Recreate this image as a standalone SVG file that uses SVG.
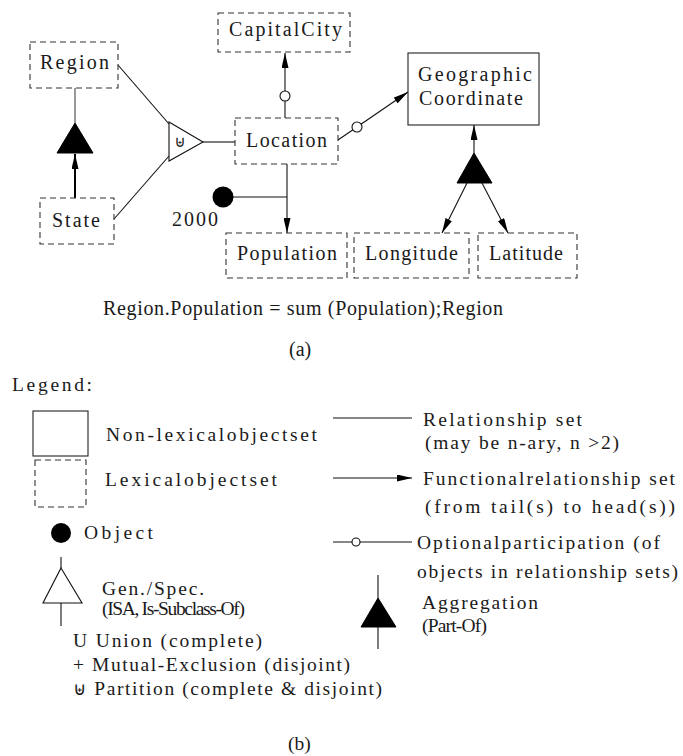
<svg xmlns="http://www.w3.org/2000/svg" width="683" height="756" viewBox="0 0 683 756">
<defs>
<style>
.t{font-family:"Liberation Serif","Times New Roman",serif;fill:#1a1a1a;}
.n{font-size:20px;}
.l{font-size:19.5px;}
.lex{fill:none;stroke:#333;stroke-width:1.1;stroke-dasharray:6 4;}
.nlex{fill:none;stroke:#222;stroke-width:1.1;}
.ln{fill:none;stroke:#111;stroke-width:1.1;}
.opt{fill:#fff;stroke:#111;stroke-width:1.1;}
.blk{fill:#000;stroke:#000;stroke-width:1;}
.sym{font-family:"DejaVu Sans",sans-serif;}
</style>
<marker id="arr" viewBox="0 0 15 7" refX="15" refY="3.5" markerWidth="15" markerHeight="7" markerUnits="userSpaceOnUse" orient="auto">
<path d="M0,0 L15,3.5 L0,7 z" fill="#000"/>
</marker>
</defs>

<g id="connectors">
<line class="ln" x1="118" y1="65" x2="169" y2="124"/>
<line class="ln" x1="114" y1="219" x2="169" y2="156"/>
<line class="ln" x1="203" y1="142" x2="235" y2="142"/>
<line x1="75" y1="88" x2="75" y2="123" stroke="#555" stroke-width="1.2"/>
<line x1="75" y1="198" x2="75" y2="154" stroke="#000" stroke-width="2" marker-end="url(#arr)"/>
<line class="ln" x1="285" y1="118" x2="285" y2="53" marker-end="url(#arr)"/>
<circle class="opt" cx="285" cy="96" r="5"/>
<line class="ln" x1="287" y1="164" x2="287" y2="233" marker-end="url(#arr)"/>
<line class="ln" x1="223" y1="197" x2="287" y2="197"/>
<line class="ln" x1="338" y1="140" x2="408" y2="92" marker-end="url(#arr)"/>
<circle class="opt" cx="357" cy="127" r="5"/>
<line class="ln" x1="474" y1="153" x2="474" y2="125" marker-end="url(#arr)"/>
<line class="ln" x1="467" y1="183" x2="442" y2="233" marker-end="url(#arr)"/>
<line class="ln" x1="482" y1="183" x2="508" y2="233" marker-end="url(#arr)"/>
</g>

<g id="region"><rect class="lex" x="30" y="42" width="88" height="46"/><text class="t n" x="40" y="69" textLength="69" lengthAdjust="spacing">Region</text></g>
<g id="state"><rect class="lex" x="40" y="198" width="74" height="46"/><text class="t n" x="52" y="227" textLength="48" lengthAdjust="spacing">State</text></g>
<g id="aggregation1"><polygon class="blk" points="75,123 93,153 57,153"/></g>
<g id="union"><polygon fill="#fff" stroke="#111" stroke-width="1.1" points="169,122 203,142 169,161"/><text class="sym" x="180" y="147" font-size="16" text-anchor="middle" fill="#222">⊎</text></g>
<g id="capitalcity"><rect class="lex" x="218" y="13" width="132" height="39"/><text class="t n" x="229" y="36" textLength="113" lengthAdjust="spacing">CapitalCity</text></g>
<g id="location"><rect class="lex" x="235" y="118" width="103" height="46"/><text class="t n" x="246" y="147" textLength="81" lengthAdjust="spacing">Location</text></g>
<g id="object2000"><circle cx="223" cy="197" r="10.5" fill="#000"/><text class="t n" x="172" y="226" textLength="46" lengthAdjust="spacing">2000</text></g>
<g id="population"><rect class="lex" x="226" y="233" width="121" height="45"/><text class="t n" x="237" y="260" textLength="100" lengthAdjust="spacing">Population</text></g>
<g id="longitude"><rect class="lex" x="354" y="233" width="115" height="45"/><text class="t n" x="365" y="260" textLength="93" lengthAdjust="spacing">Longitude</text></g>
<g id="latitude"><rect class="lex" x="478" y="233" width="99" height="45"/><text class="t n" x="489" y="260" textLength="74" lengthAdjust="spacing">Latitude</text></g>
<g id="geographic"><rect class="nlex" x="408" y="53" width="131" height="72"/><text class="t n" x="418" y="81" textLength="114" lengthAdjust="spacing">Geographic</text><text class="t n" x="419" y="105" textLength="104" lengthAdjust="spacing">Coordinate</text></g>
<g id="aggregation2"><polygon class="blk" points="474,153 492,183 457,183"/></g>

<g id="formula"><text class="t n" x="103" y="315" textLength="400" lengthAdjust="spacing">Region.Population = sum (Population);Region</text></g>
<g id="caption-a"><text class="t n" x="289" y="356">(a)</text></g>

<g id="legend">
<text class="t l" x="12" y="391" textLength="80" lengthAdjust="spacing">Legend:</text>
<rect class="nlex" x="33" y="411" width="55" height="45"/>
<text class="t l" x="106" y="441" textLength="211" lengthAdjust="spacing">Non-lexicalobjectset</text>
<rect class="lex" x="35" y="460" width="51" height="47"/>
<text class="t l" x="105" y="486" textLength="172" lengthAdjust="spacing">Lexicalobjectset</text>
<circle cx="61" cy="533" r="10" fill="#000"/>
<text class="t l" x="84" y="539" textLength="69" lengthAdjust="spacing">Object</text>
<line class="ln" x1="61" y1="557" x2="61" y2="568"/>
<polygon fill="#fff" stroke="#111" stroke-width="1.1" points="61,568 82,603 43,603"/>
<line class="ln" x1="61" y1="603" x2="61" y2="626"/>
<text class="t l" x="102" y="595" textLength="102" lengthAdjust="spacing">Gen./Spec.</text>
<text class="t l" x="102" y="615" textLength="143" lengthAdjust="spacing">(ISA, Is-Subclass-Of)</text>
<text class="t l" x="73" y="647" textLength="189" lengthAdjust="spacing">U  Union (complete)</text>
<text class="t l" x="73" y="671" textLength="277" lengthAdjust="spacing">+  Mutual-Exclusion (disjoint)</text>
<text class="t l" x="73" y="695" textLength="309" lengthAdjust="spacing"><tspan class="sym" font-size="18">⊎</tspan>  Partition (complete &amp; disjoint)</text>

<line class="ln" x1="333" y1="418" x2="412" y2="418"/>
<text class="t l" x="423" y="426" textLength="159" lengthAdjust="spacing">Relationship set</text>
<text class="t l" x="425" y="449" textLength="194" lengthAdjust="spacing">(may be n-ary, n &gt;2)</text>
<line class="ln" x1="333" y1="478" x2="412" y2="478" marker-end="url(#arr)"/>
<text class="t l" x="423" y="485" textLength="252" lengthAdjust="spacing">Functionalrelationship set</text>
<text class="t l" x="425" y="513" textLength="250" lengthAdjust="spacing">(from tail(s) to head(s))</text>
<line class="ln" x1="333" y1="542" x2="412" y2="542"/>
<circle class="opt" cx="356" cy="542" r="4"/>
<text class="t l" x="417" y="549" textLength="243" lengthAdjust="spacing">Optionalparticipation (of</text>
<text class="t l" x="417" y="578" textLength="261" lengthAdjust="spacing">objects in relationship sets)</text>
<line class="ln" x1="378" y1="575" x2="378" y2="598"/>
<polygon class="blk" points="378,598 396,627 361,627"/>
<line class="ln" x1="378" y1="627" x2="378" y2="649"/>
<text class="t l" x="422" y="609" textLength="116" lengthAdjust="spacing">Aggregation</text>
<text class="t l" x="422" y="632" textLength="65" lengthAdjust="spacing">(Part-Of)</text>
</g>
<g id="caption-b"><text class="t l" x="288" y="750">(b)</text></g>
</svg>
